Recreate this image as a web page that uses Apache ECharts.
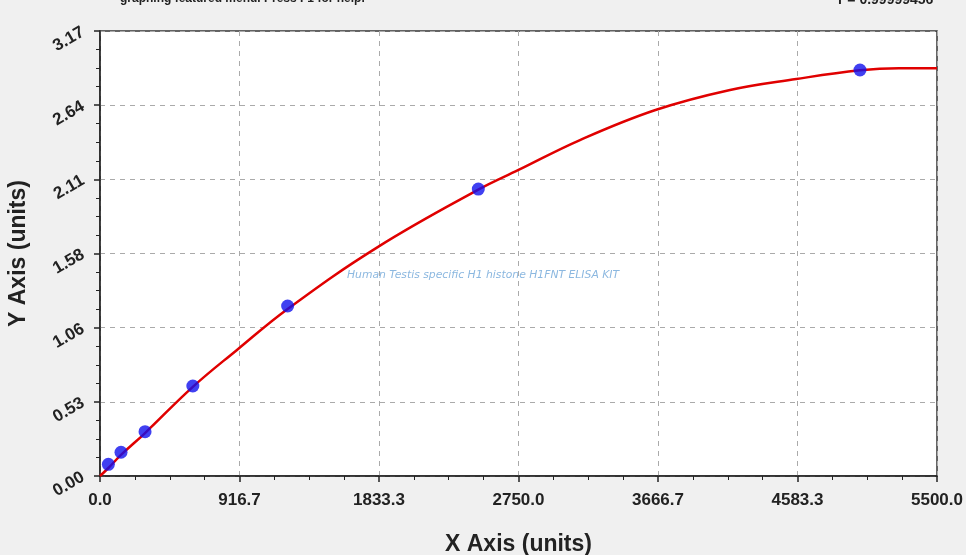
<!DOCTYPE html>
<html>
<head>
<meta charset="utf-8">
<script src="https://cdn.jsdelivr.net/npm/echarts@6/dist/echarts.min.js"></script>
<style>
html,body{margin:0;padding:0;background:#f0f0f0;}
#main{width:966px;height:555px;}
</style>
</head>
<body>
<div id="main"></div>
<script>
// Data
const xTickLabels = ['0.0','916.7','1833.3','2750.0','3666.7','4583.3','5500.0'];
const yTickLabels = ['0.00','0.53','1.06','1.58','2.11','2.64','3.17'];
const pointX = [55, 138, 296, 610, 1233, 2486, 4994];
const pointY = [0.083, 0.169, 0.316, 0.641, 1.211, 2.044, 2.892];
const curveX = [0, 55, 138, 296, 610, 900, 1233, 1822, 2486, 2750, 3154, 3650, 4140, 4575, 4994, 5250, 5500];
const curveY = [0.00, 0.057, 0.150, 0.306, 0.635, 0.898, 1.190, 1.629, 2.040, 2.180, 2.393, 2.607, 2.750, 2.828, 2.890, 2.905, 2.905];
const watermark = 'Human Testis specific H1 histone H1FNT ELISA KIT';
const topLeftText = 'graphing featured menu. Press F1 for help.';
const topRightText = 'r = 0.99999456';

const xMax = 5500, yMax = 3.17;
const chart = echarts.init(document.getElementById('main'));
const labelFont = {fontFamily:'Liberation Sans, Arial, sans-serif', fontWeight:'bold', fontSize:17, color:'#222'};
chart.setOption({
  backgroundColor:'#f0f0f0',
  animation:false,
  grid:{left:100,right:29,top:31,bottom:79,show:true,backgroundColor:'#ffffff',borderColor:'#333',borderWidth:1.5,
        containLabel:false,outerBoundsMode:'none'},
  xAxis:{
    type:'value',min:0,max:xMax,interval:xMax/6,
    name:'X Axis (units)',nameLocation:'middle',nameGap:57,
    nameTextStyle:{fontFamily:'Liberation Sans, Arial, sans-serif',fontWeight:'bold',fontSize:23,color:'#222'},
    axisLine:{lineStyle:{color:'#222',width:1.5}},
    axisTick:{show:true,length:6,lineStyle:{color:'#222',width:1.5}},
    minorTick:{show:true,splitNumber:4,length:4,lineStyle:{color:'#222',width:1}},
    splitLine:{show:true,lineStyle:{type:[5,5],color:'#aaa',width:1}},
    axisLabel:Object.assign({margin:16,formatter:function(v){const i=Math.round(v/(xMax/6));return xTickLabels[i]!==undefined?xTickLabels[i]:'';}},labelFont)
  },
  yAxis:{
    type:'value',min:0,max:yMax,interval:yMax/6,
    name:'Y Axis (units)',nameLocation:'middle',nameGap:70,
    nameTextStyle:{fontFamily:'Liberation Sans, Arial, sans-serif',fontWeight:'bold',fontSize:23,color:'#222'},
    axisLine:{show:true,lineStyle:{color:'#222',width:1.5}},
    axisTick:{show:true,length:6,lineStyle:{color:'#222',width:1.5}},
    minorTick:{show:true,splitNumber:4,length:4,lineStyle:{color:'#222',width:1}},
    splitLine:{show:true,lineStyle:{type:[5,5],color:'#aaa',width:1}},
    axisLabel:Object.assign({margin:17,rotate:30,formatter:function(v){const i=Math.round(v/(yMax/6));return yTickLabels[i]!==undefined?yTickLabels[i]:'';}},labelFont)
  },
  graphic:[
    {type:'text',left:347,top:270,style:{text:watermark,fill:'#8cb8e0',font:'italic 10.8px "DejaVu Sans", sans-serif'}},
    {type:'text',left:120,top:-7,style:{text:topLeftText,fill:'#222',font:'bold 12px "Liberation Sans", Arial, sans-serif'}},
    {type:'text',left:838,top:-7,style:{text:topRightText,fill:'#222',font:'bold 14px "Liberation Sans", Arial, sans-serif'}}
  ],
  series:[
    {type:'line',data:curveX.map((x,i)=>[x,curveY[i]]),smooth:0.4,showSymbol:false,
     lineStyle:{color:'#e00000',width:2.5},z:2},
    {type:'scatter',data:pointX.map((x,i)=>[x,pointY[i]]),symbol:'circle',symbolSize:13,
     itemStyle:{color:'#1010ee'},z:3}
  ]
});
</script>
</body>
</html>
